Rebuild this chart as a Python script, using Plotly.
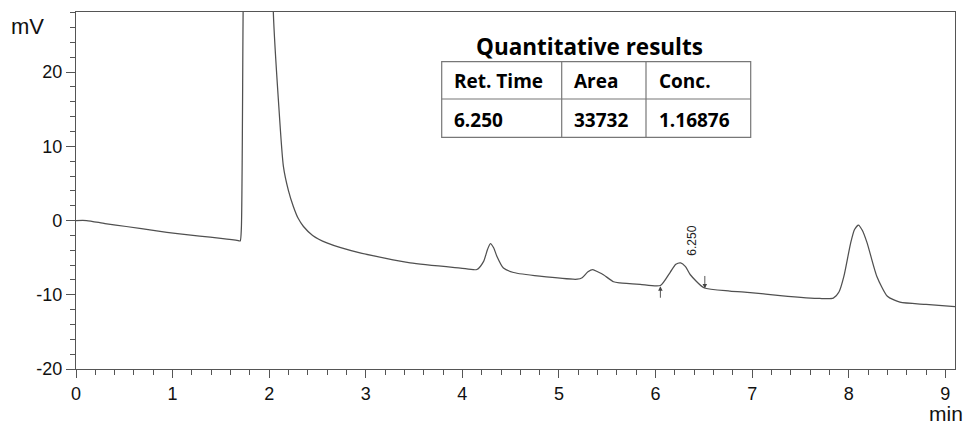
import plotly.graph_objects as go

# ---- data ----
time_min = [0.00, 0.11, 0.30, 0.52, 0.835, 1.05, 1.28, 1.50, 1.68, 1.70, 1.712, 1.73,
            1.78, 1.88, 1.98, 2.043, 2.095, 2.147, 2.20, 2.25, 2.30, 2.355, 2.45, 2.597,
            2.94, 3.46, 3.98, 4.15, 4.22, 4.26, 4.29, 4.325, 4.357, 4.425, 4.53, 4.80,
            5.19, 5.24, 5.30, 5.35, 5.40, 5.46, 5.565, 5.63, 5.84, 6.05, 6.15, 6.21, 6.26,
            6.31, 6.36, 6.50, 6.77, 6.98, 7.29, 7.70, 7.84, 7.90, 7.95, 8.02, 8.06,
            8.10, 8.14, 8.19, 8.29, 8.40, 8.53, 8.80, 9.10]
signal_mv = [0.0, 0.0, -0.4, -0.8, -1.4, -1.75, -2.1, -2.4, -2.7, -2.75, -1.0, 28.0,
             100.0, 180.0, 100.0, 28.0, 16.3, 7.3, 4.0, 1.9, 0.3, -0.8, -2.0, -3.0,
             -4.35, -5.7, -6.4, -6.6, -5.5, -3.9, -3.1, -3.7, -4.8, -6.4, -7.0, -7.5,
             -7.9, -7.7, -6.9, -6.6, -6.9, -7.3, -8.25, -8.4, -8.6, -8.75, -7.0, -5.9, -5.7,
             -6.2, -7.3, -9.05, -9.5, -9.7, -10.1, -10.5, -10.45, -9.6, -7.5, -3.0, -1.2,
             -0.6, -1.3, -3.0, -7.5, -10.2, -11.0, -11.3, -11.6]

peak_rt = 6.250
peak_label = "6.250"
peak_start, peak_start_mv = 6.05, -8.85
peak_end, peak_end_mv = 6.51, -9.15

table_title = "Quantitative results"
table_header = ["Ret. Time", "Area", "Conc."]
table_row = ["6.250", "33732", "1.16876"]

x_ticks = [0, 1, 2, 3, 4, 5, 6, 7, 8, 9]
x_ticklabels = ["0", "1", "2", "3", "4", "5", "6", "7", "8", "9"]
y_ticks = [-20, -10, 0, 10, 20]
y_ticklabels = ["-20", "-10", "0", "10", "20"]

x_range = [0, 9.1]
y_range = [-20, 28.1]

# ---- layout geometry (pixels) ----
W, H = 966, 425
ML, MR, MT, MB = 76, 11, 12, 56
PW, PH = W - ML - MR, H - MT - MB


def px(x):
    return (x - ML) / PW


def py(y):
    return (H - MB - y) / PH


fig = go.Figure()
fig.add_trace(go.Scatter(
    x=time_min, y=signal_mv, mode="lines",
    line=dict(color="#505050", width=1.25, shape="spline", smoothing=0.6),
    hoverinfo="skip", showlegend=False))

axis_common = dict(
    showgrid=False, zeroline=False, showline=True, linecolor="#555555",
    linewidth=1.3, mirror=True, ticks="outside", tickcolor="#555555",
    tickwidth=1.2,
    tickfont=dict(family="Liberation Sans, Arial", size=18, color="#111111"),
)
fig.update_xaxes(range=x_range, tickmode="array", tickvals=x_ticks, ticktext=x_ticklabels,
                 ticklen=8,
                 minor=dict(tickmode="linear", tick0=0, dtick=0.2, ticks="outside",
                            ticklen=5, tickcolor="#555555", tickwidth=1.1),
                 **axis_common)
fig.update_yaxes(range=y_range, tickmode="array", tickvals=y_ticks, ticktext=y_ticklabels,
                 ticklen=9,
                 minor=dict(tickmode="linear", tick0=0, dtick=2, ticks="outside",
                            ticklen=5, tickcolor="#555555", tickwidth=1.1),
                 **axis_common)

annotations = []
# axis unit labels
annotations.append(dict(xref="paper", yref="paper", x=px(9), y=py(27), text="mV",
                        showarrow=False, xanchor="left", yanchor="middle",
                        font=dict(family="Liberation Sans, Arial", size=22, color="#111")))
annotations.append(dict(xref="paper", yref="paper", x=px(964), y=py(426), text="min",
                        showarrow=False, xanchor="right", yanchor="bottom", borderpad=0,
                        font=dict(family="Liberation Sans, Arial", size=21, color="#111")))
# peak label
annotations.append(dict(x=peak_rt, y=-2.75, text=peak_label, textangle=-90,
                        showarrow=False, xshift=12, xanchor="center", yanchor="middle",
                        font=dict(family="Liberation Sans, Arial", size=12, color="#222")))
# integration arrows
annotations.append(dict(x=peak_start, y=peak_start_mv, ax=0, ay=13, text="",
                        showarrow=True, arrowhead=2, arrowsize=1, arrowwidth=0.9,
                        arrowcolor="#444"))
annotations.append(dict(x=peak_end, y=peak_end_mv, ax=0, ay=-14, text="",
                        showarrow=True, arrowhead=2, arrowsize=1, arrowwidth=0.9,
                        arrowcolor="#444"))

# table
tbl_font = dict(family="Open Sans", size=19, color="#000")
tx0, tx1, tx2, tx3 = 441.7, 561.7, 646.0, 750.7
ty0, ty1, ty2 = 61.7, 99.0, 137.3
annotations.append(dict(xref="paper", yref="paper", x=px(589), y=py(46.5),
                        text="<b>%s</b>" % table_title, showarrow=False,
                        xanchor="center", yanchor="middle",
                        font=dict(family="Open Sans", size=22.5, color="#000")))
col_x = [452, 572, 657]
for i, c in enumerate(table_header):
    annotations.append(dict(xref="paper", yref="paper", x=px(col_x[i]), y=py(81),
                            text="<b>%s</b>" % c, showarrow=False,
                            xanchor="left", yanchor="middle", font=tbl_font))
for i, c in enumerate(table_row):
    annotations.append(dict(xref="paper", yref="paper", x=px(col_x[i]), y=py(119.5),
                            text="<b>%s</b>" % c, showarrow=False,
                            xanchor="left", yanchor="middle", font=tbl_font))

shapes = []
lc = dict(color="#777777", width=1.2)
shapes.append(dict(type="rect", xref="paper", yref="paper", x0=px(tx0), x1=px(tx3),
                   y0=py(ty0), y1=py(ty2), line=lc, fillcolor="rgba(0,0,0,0)"))
shapes.append(dict(type="line", xref="paper", yref="paper", x0=px(tx0), x1=px(tx3),
                   y0=py(ty1), y1=py(ty1), line=lc))
for xv in (tx1, tx2):
    shapes.append(dict(type="line", xref="paper", yref="paper", x0=px(xv), x1=px(xv),
                       y0=py(ty0), y1=py(ty2), line=lc))

fig.update_layout(
    width=W, height=H, margin=dict(l=ML, r=MR, t=MT, b=MB),
    paper_bgcolor="white", plot_bgcolor="white",
    annotations=annotations, shapes=shapes,
)

fig.write_html("out.html")
